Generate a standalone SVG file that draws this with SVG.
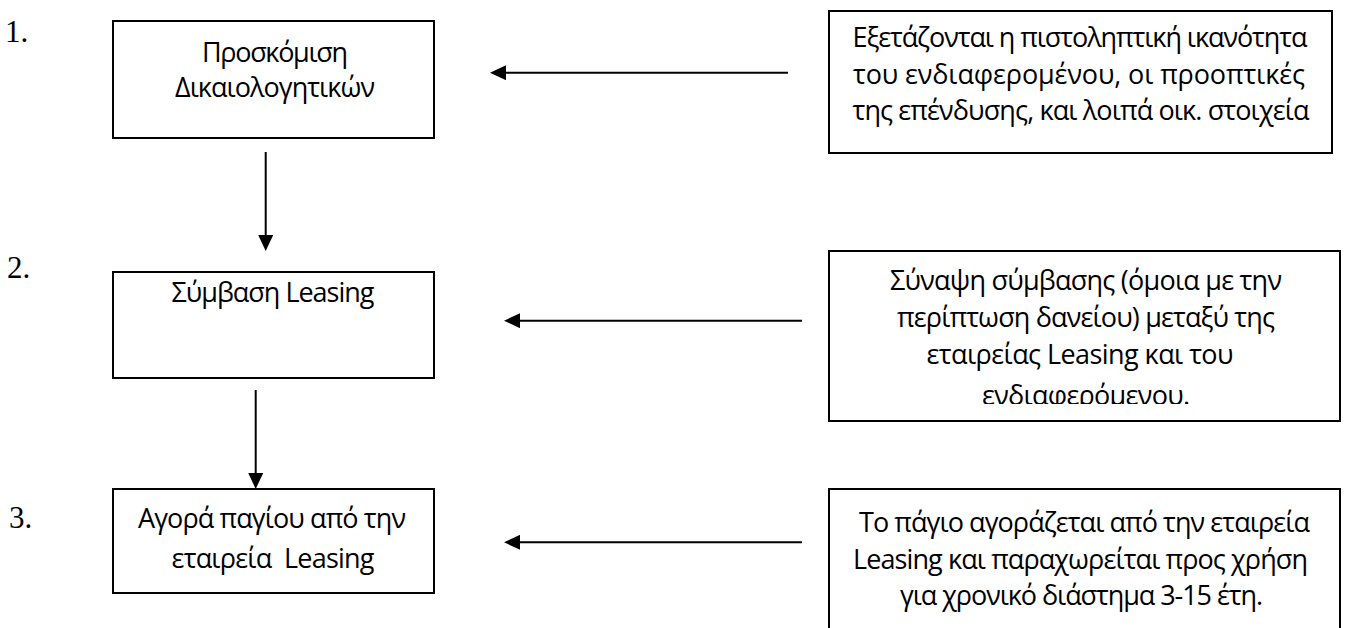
<svg xmlns="http://www.w3.org/2000/svg" width="1350" height="628" viewBox="0 0 1350 628">
<style>
.box{fill:#fff;stroke:#000;stroke-width:2}
.t{font-family:"Open Sans","Noto Sans",sans-serif;font-size:27px;fill:#000;text-anchor:middle}
.n{font-family:"Liberation Serif","Times New Roman",serif;font-size:31px;fill:#000}
.c{stroke:#000;stroke-width:2;fill:none;marker-end:url(#ah)}
</style>
<defs>
<marker id="ah" markerUnits="userSpaceOnUse" viewBox="0 0 16 15" markerWidth="16" markerHeight="15" refX="0" refY="7.5" orient="auto">
<path d="M0,0 L16,7.5 L0,15 Z" fill="#000"/>
</marker>
<clipPath id="clipR2"><rect x="830" y="252" width="509" height="152"/></clipPath>
</defs>
<rect width="1350" height="628" fill="#fff"/>

<g id="labels">
<text class="n" x="5" y="42">1.</text>
<text class="n" x="7" y="278">2.</text>
<text class="n" x="9" y="528">3.</text>
</g>

<g id="node-step1">
<rect class="box" x="113" y="21" width="321" height="117"/>
<text class="t" x="275" y="62" textLength="146">Προσκόμιση</text>
<text class="t" x="275" y="97" textLength="200">Δικαιολογητικών</text>
</g>

<g id="node-step2">
<rect class="box" x="113" y="272" width="321" height="106"/>
<text class="t" x="273" y="302" textLength="203">Σύμβαση Leasing</text>
</g>

<g id="node-step3">
<rect class="box" x="113" y="489" width="321" height="104"/>
<text class="t" x="272" y="528" textLength="268">Αγορά παγίου από την</text>
<text class="t" x="273" y="568" textLength="203" xml:space="preserve">εταιρεία  Leasing</text>
</g>

<g id="node-note1">
<rect class="box" x="829" y="11" width="503" height="142"/>
<text class="t" x="1080" y="47" textLength="455">Εξετάζονται η πιστοληπτική ικανότητα</text>
<text class="t" x="1079" y="83.5" textLength="452">του ενδιαφερομένου, οι προοπτικές</text>
<text class="t" x="1081" y="120" textLength="457">της επένδυσης, και λοιπά οικ. στοιχεία</text>
</g>

<g id="node-note2">
<rect class="box" x="829" y="251" width="511" height="170"/>
<g clip-path="url(#clipR2)">
<text class="t" x="1086" y="290" textLength="392">Σύναψη σύμβασης (όμοια με την</text>
<text class="t" x="1086" y="327" textLength="378">περίπτωση δανείου) μεταξύ της</text>
<text class="t" x="1080" y="364" textLength="307">εταιρείας Leasing και του</text>
<text class="t" x="1086" y="405" textLength="208">ενδιαφερόμενου.</text>
</g>
</g>

<g id="node-note3">
<rect class="box" x="829" y="489" width="511" height="160"/>
<text class="t" x="1084.5" y="532" textLength="451">Το πάγιο αγοράζεται από την εταιρεία</text>
<text class="t" x="1080.5" y="568.5" textLength="455">Leasing και παραχωρείται προς χρήση</text>
<text class="t" x="1081.5" y="605" textLength="363">για χρονικό διάστημα 3-15 έτη.</text>
</g>

<g id="connectors">
<line class="c" x1="265.7" y1="152" x2="265.7" y2="235"/>
<line class="c" x1="255.7" y1="390" x2="255.7" y2="473"/>
<line class="c" x1="788" y1="72.7" x2="506" y2="72.7"/>
<line class="c" x1="802" y1="320.7" x2="520" y2="320.7"/>
<line class="c" x1="802" y1="542.3" x2="520" y2="542.3"/>
</g>
</svg>
